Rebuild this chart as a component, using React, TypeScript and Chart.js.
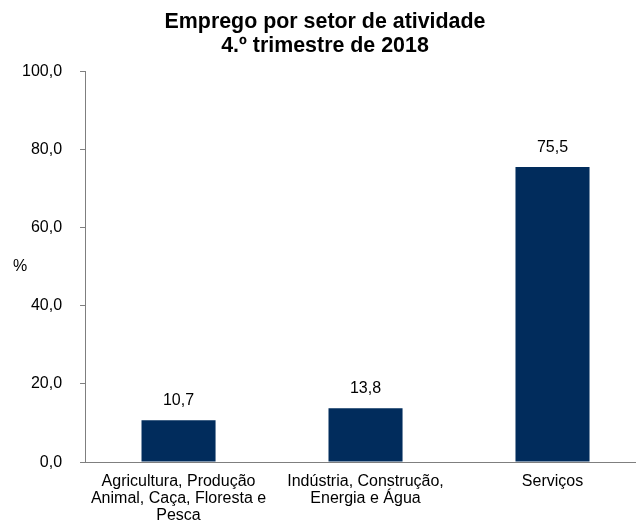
import React, { useEffect, useRef } from "react";
import { Chart, registerables } from "chart.js";

Chart.register(...registerables);

const titleLines = ["Emprego por setor de atividade", "4.º trimestre de 2018"];
const categories: (string | string[])[] = [
  ["Agricultura, Produção", "Animal, Caça, Floresta e", "Pesca"],
  ["Indústria, Construção,", "Energia e Água"],
  "Serviços",
];
const values = [10.7, 13.8, 75.5];
const yTitle = "%";
const yMin = 0;
const yMax = 100;
const yStep = 20;

const FONT = "Arial, 'Liberation Sans', sans-serif";
const fmt = (v: number) => v.toFixed(1).replace(".", ",");

const extras = {
  id: "extras",
  afterDatasetsDraw(chart: any) {
    const ctx = chart.ctx;
    const meta = chart.getDatasetMeta(0);
    ctx.save();
    ctx.fillStyle = "#000";
    ctx.font = `16px ${FONT}`;
    ctx.textAlign = "center";
    ctx.textBaseline = "middle";
    meta.data.forEach((bar: any, i: number) => {
      ctx.fillText(fmt(values[i]), bar.x, bar.y - 20);
    });
    const ca = chart.chartArea;
    ctx.fillText(yTitle, ca.left - 65, (ca.top + ca.bottom) / 2);
    ctx.restore();
  },
};

export default function App() {
  const ref = useRef<HTMLCanvasElement | null>(null);
  useEffect(() => {
    if (!ref.current) return;
    const chart = new Chart(ref.current, {
      type: "bar",
      data: {
        labels: categories,
        datasets: [
          {
            data: values,
            backgroundColor: "#012C5C",
            borderWidth: 0,
            categoryPercentage: 1,
            barPercentage: 0.396,
          },
        ],
      },
      options: {
        responsive: false,
        animation: false,
        devicePixelRatio: 1,
        layout: { autoPadding: false, padding: { left: 4, right: 20, top: 0, bottom: 0 } },
        plugins: {
          legend: { display: false },
          tooltip: { enabled: false },
          title: {
            display: true,
            text: titleLines,
            color: "#000",
            font: { family: FONT, size: 21.4, weight: "bold", lineHeight: 1.13 },
            padding: { top: 10, bottom: 13 },
          },
        },
        scales: {
          x: {
            grid: { display: false },
            border: { display: true, color: "#7f7f7f", width: 1 },
            ticks: {
              color: "#000",
              font: { family: FONT, size: 16, lineHeight: 1.06 },
              padding: 3,
              autoSkip: false,
              maxRotation: 0,
              minRotation: 0,
            },
          },
          y: {
            min: yMin,
            max: yMax,
            grid: {
              display: true,
              drawOnChartArea: false,
              drawTicks: true,
              tickLength: 5,
              color: "#7f7f7f",
            },
            border: { display: true, color: "#7f7f7f", width: 1 },
            ticks: {
              stepSize: yStep,
              color: "#000",
              font: { family: FONT, size: 16 },
              padding: 18,
              callback: (v: any) => fmt(Number(v)),
            },
          },
        },
      },
      plugins: [extras],
    });
    return () => chart.destroy();
  }, []);
  return (
    <div
      style={{
        position: "fixed",
        left: 0,
        top: 0,
        width: 636,
        height: 522,
        overflow: "hidden",
        background: "#fff",
      }}
    >
      <canvas ref={ref} width={666} height={527} style={{ display: "block" }} />
    </div>
  );
}
